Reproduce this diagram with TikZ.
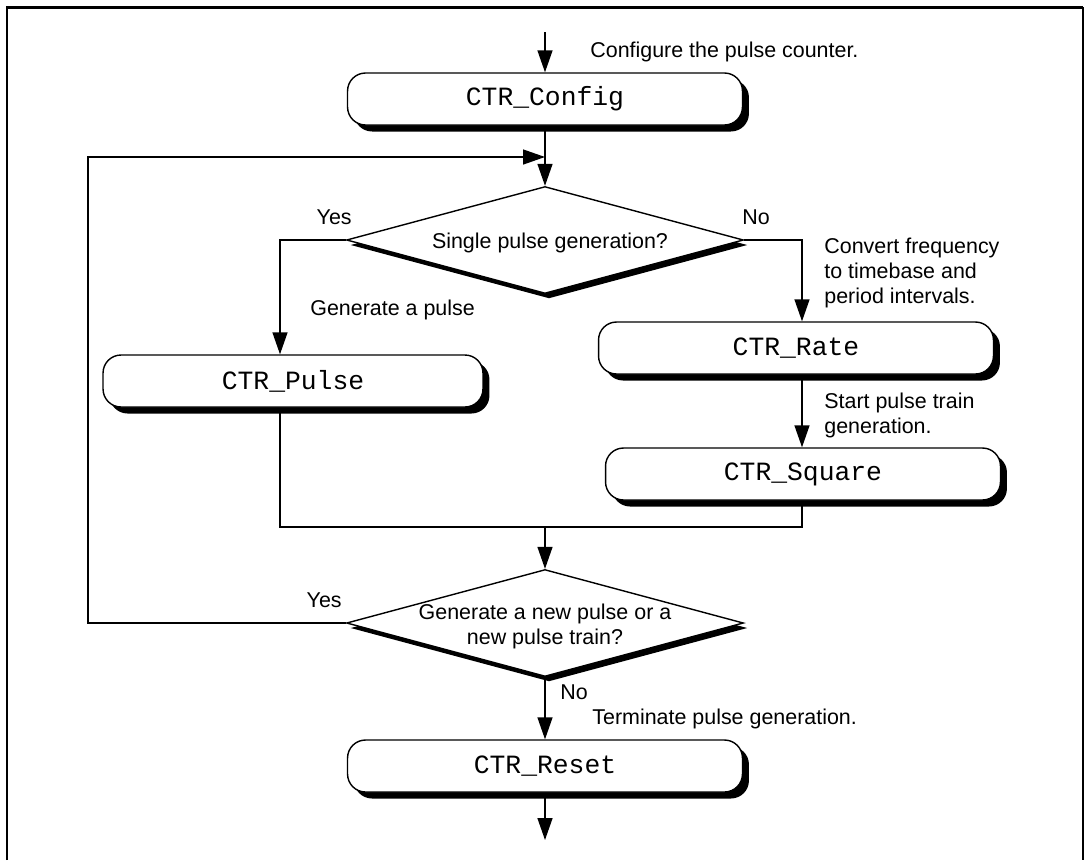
\documentclass[tikz,border=0pt]{standalone}
\usepackage{fontspec}
\setmainfont{Liberation Sans}
\setmonofont{Liberation Mono}
\usetikzlibrary{shapes.geometric,shadows,arrows.meta}
\begin{document}
\begin{tikzpicture}[x=0.02cm,y=-0.02cm,
  fn/.style={draw=black,line width=0.8pt,fill=white,rounded corners=0.36cm,minimum width=7.9cm,minimum height=1.04cm,inner sep=0pt,font=\fontsize{15}{18}\selectfont\ttfamily,drop shadow={shadow xshift=0.13cm,shadow yshift=-0.13cm,fill=black,opacity=1}},
  dec/.style={draw=black,line width=0.8pt,fill=white,diamond,minimum width=7.94cm,minimum height=2.14cm,inner sep=0pt,drop shadow={shadow xshift=0.08cm,shadow yshift=-0.1cm,fill=black,opacity=1}},
  lbl/.style={font=\fontsize{12.2}{14.2}\selectfont,inner sep=0pt,align=left},
  arr/.style={line width=0.8pt,-{Triangle[length=0.44cm,width=0.3cm]}},
  ln/.style={line width=0.8pt}]
\useasboundingbox (0,0) rectangle (1085,860);
% frame
\draw[line width=1.7pt] (7,860) -- (7,7) -- (1083,7);
\draw[line width=1.2pt] (1083,7) -- (1083,860);
% nodes
\node[fn] (cfg) at (545,99) {CTR\_Config};
\node[dec] (d1) at (545,240) {};
\node[lbl,align=center] (t1) at (550,243) {Single pulse generation?};
\node[fn,minimum width=7.6cm] (pulse) at (293,381) {CTR\_Pulse};
\node[fn] (rate) at (796,348) {CTR\_Rate};
\node[fn] (square) at (803,474) {CTR\_Square};
\node[dec] (d2) at (545,623) {};
\node[lbl,align=center] (t2) at (545,626) {Generate a new pulse or a\\new pulse train?};
\node[fn] (reset) at (545,766) {CTR\_Reset};
% coordinates
\coordinate (top) at (545,32);
\coordinate (lx) at (280,0);
\coordinate (rx) at (802,0);
\coordinate (j) at (545,527);
\coordinate (lp) at (88,157);
\coordinate (end) at (545,840);
% connectors
\draw[arr] (top) -- (cfg);
\draw[arr] (cfg) -- (d1);
\draw[arr] (d1.west) -| (lx |- pulse.north);
\draw[arr] (d1.east) -| (rx |- rate.north);
\draw[arr] (rx |- rate.south) -- (rx |- square.north);
\draw[ln] (lx |- pulse.south) |- (j) -| (rx |- square.south);
\draw[arr] (j) -- (d2);
\draw[arr] (d2.west) -| (lp) -- (lp -| cfg.south);
\draw[arr] (d2) -- (reset);
\draw[arr] (reset) -- (end);
% labels
\node[lbl,anchor=west] (l1) at (590,52) {Configure the pulse counter.};
\node[lbl,anchor=east] (l2) at (352,217) {Yes};
\node[lbl,anchor=west] (l3) at (742,217) {No};
\node[lbl,anchor=west] (l4) at (310,310) {Generate a pulse};
\node[lbl,anchor=west] (l5) at (824,273) {Convert frequency\\to timebase and\\period intervals.};
\node[lbl,anchor=west] (l6) at (824,415) {Start pulse train\\generation.};
\node[lbl,anchor=east] (l7) at (342,600) {Yes};
\node[lbl,anchor=west] (l8) at (560,692) {No};
\node[lbl,anchor=west] (l9) at (592,719) {Terminate pulse generation.};
\end{tikzpicture}
\end{document}
